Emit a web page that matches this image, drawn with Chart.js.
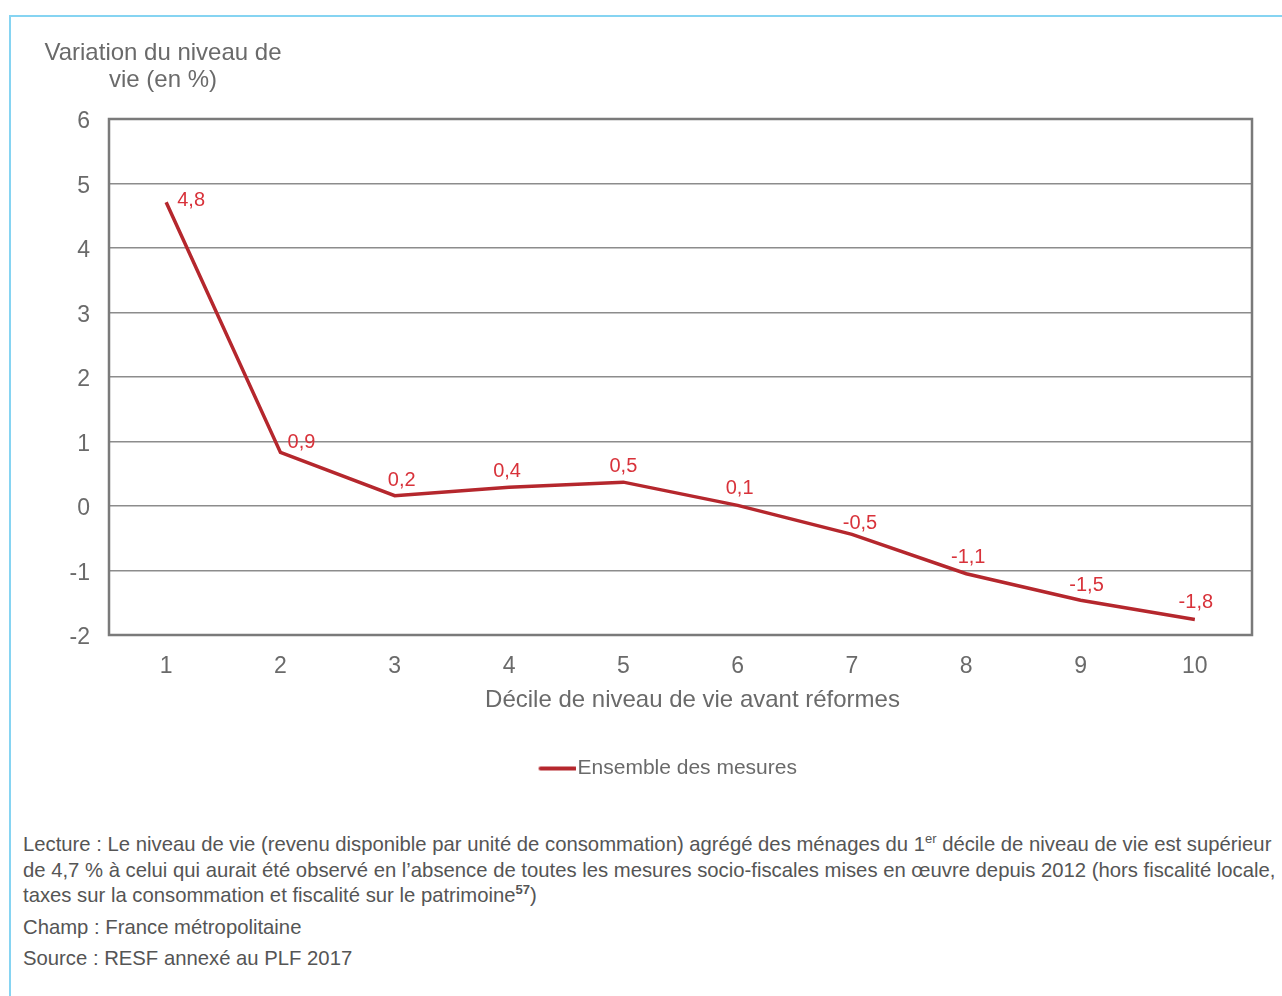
<!DOCTYPE html>
<html><head><meta charset="utf-8">
<script src="https://cdn.jsdelivr.net/npm/chart.js@4.4.0/dist/chart.umd.min.js"></script>
<style>
html,body{margin:0;padding:0;background:#fff;}
body{width:1282px;height:996px;position:relative;overflow:hidden;font-family:"Liberation Sans",Arial,sans-serif;}
#frame{position:absolute;left:9px;top:15px;right:0;bottom:0;border-top:2px solid #86d4f2;border-left:2px solid #86d4f2;}
#wrap{position:absolute;left:0;top:0;width:1282px;height:789px;}
#note{position:absolute;left:23px;top:832px;color:#555;font-size:20.3px;line-height:25.5px;white-space:nowrap;}
#note p{margin:0 0 6px 0;}
#note sup{font-size:13px;line-height:0;vertical-align:8px;}
</style></head>
<body>
<div id="frame"></div>
<div id="wrap"><canvas id="c" width="1282" height="789"></canvas></div>
<div id="note">
<p>Lecture : Le niveau de vie (revenu disponible par unité de consommation) agrégé des ménages du 1<sup>er</sup> décile de niveau de vie est supérieur<br>de 4,7 % à celui qui aurait été observé en l’absence de toutes les mesures socio-fiscales mises en œuvre depuis 2012 (hors fiscalité locale,<br>taxes sur la consommation et fiscalité sur le patrimoine<sup><b>57</b></sup>)</p>
<p>Champ : France métropolitaine</p>
<p>Source : RESF annexé au PLF 2017</p>
</div>
<script>
// ---- data ----
const deciles = ['1','2','3','4','5','6','7','8','9','10'];
const variation = [4.71, 0.83, 0.16, 0.29, 0.37, 0.01, -0.44, -1.05, -1.46, -1.76];
const valueLabels = ['4,8','0,9','0,2','0,4','0,5','0,1','-0,5','-1,1','-1,5','-1,8'];
const seriesName = 'Ensemble des mesures';
const yTitleLines = ['Variation du niveau de', 'vie (en %)'];
const xTitle = 'Décile de niveau de vie avant réformes';
const yMin = -2, yMax = 6, yStep = 1;

// label placement relative to each point (style)
const labelShift = [[25,-2],[21,-10],[7,-15],[-2,-16],[0,-16],[2,-17],[8,-11],[2,-16],[6,-15],[1,-17]];

const FONT = '"Liberation Sans", Arial, sans-serif';
const GREY = '#6a6a6a';
const RED = '#b5272d';
const LABEL_RED = '#d8323a';

// legend marker: a 36px red line, drawn into a small canvas used as point style
const marker = document.createElement('canvas');
marker.width = 43; marker.height = 6;
(function () {
  const m = marker.getContext('2d');
  m.strokeStyle = RED; m.lineWidth = 4; m.lineCap = 'round';
  m.beginPath(); m.moveTo(8, 3); m.lineTo(42, 3); m.stroke();
})();

const framePlugin = {
  id: 'framePlugin',
  beforeDatasetsDraw(chart) {
    const {ctx, chartArea: a} = chart;
    ctx.save();
    ctx.strokeStyle = '#7a7a7a';
    ctx.lineWidth = 2.5;
    ctx.strokeRect(a.left, a.top, a.right - a.left, a.bottom - a.top);
    ctx.restore();
  }
};

const labelPlugin = {
  id: 'labelPlugin',
  afterDatasetsDraw(chart) {
    const {ctx} = chart;
    const meta = chart.getDatasetMeta(0);
    ctx.save();
    ctx.font = '20px ' + FONT;
    ctx.fillStyle = LABEL_RED;
    ctx.textAlign = 'center';
    ctx.textBaseline = 'middle';
    meta.data.forEach((pt, i) => {
      const s = labelShift[i];
      ctx.fillText(valueLabels[i], pt.x + s[0], pt.y + s[1]);
    });
    ctx.restore();
  }
};

const titlesPlugin = {
  id: 'titlesPlugin',
  afterDraw(chart) {
    const {ctx, chartArea: a} = chart;
    ctx.save();
    ctx.font = '24px ' + FONT;
    ctx.fillStyle = GREY;
    ctx.textAlign = 'center';
    ctx.textBaseline = 'middle';
    ctx.fillText(yTitleLines[0], 163, 53);
    ctx.fillText(yTitleLines[1], 163, 80);
    ctx.fillText(xTitle, (a.left + a.right) / 2 + 12, a.bottom + 65);
    ctx.restore();
  }
};

const legendShift = {
  id: 'legendShift',
  afterLayout(chart) {
    if (chart.legend) { chart.legend.left += 43; chart.legend.right += 43; }
  }
};

new Chart(document.getElementById('c'), {
  type: 'line',
  data: {
    labels: deciles,
    datasets: [{
      label: seriesName,
      data: variation,
      borderColor: RED,
      backgroundColor: RED,
      borderWidth: 3.5,
      pointRadius: 0,
      tension: 0,
      fill: false
    }]
  },
  options: {
    responsive: false,
    animation: false,
    layout: {padding: {top: 119, right: 30, left: 0, bottom: 0}},
    plugins: {
      tooltip: {enabled: false},
      legend: {
        position: 'bottom',
        labels: {
          usePointStyle: true,
          pointStyle: marker,
          pointStyleWidth: 26,
          padding: 43,
          color: GREY,
          font: {size: 21, family: FONT}
        }
      }
    },
    scales: {
      x: {
        offset: true,
        grid: {display: false, drawTicks: false},
        border: {display: false},
        ticks: {color: GREY, font: {size: 23, family: FONT}, padding: 18},
        title: {display: false},
        afterFit(s) { s.height = 80; }
      },
      y: {
        min: yMin, max: yMax,
        grid: {color: '#8c8c8c', lineWidth: 1.5, drawTicks: false},
        border: {display: false},
        ticks: {stepSize: yStep, color: GREY, font: {size: 23, family: FONT}, padding: 19, labelOffset: 3},
        afterFit(s) { s.width = 109; }
      }
    }
  },
  plugins: [framePlugin, labelPlugin, titlesPlugin, legendShift]
});
</script>
</body></html>
